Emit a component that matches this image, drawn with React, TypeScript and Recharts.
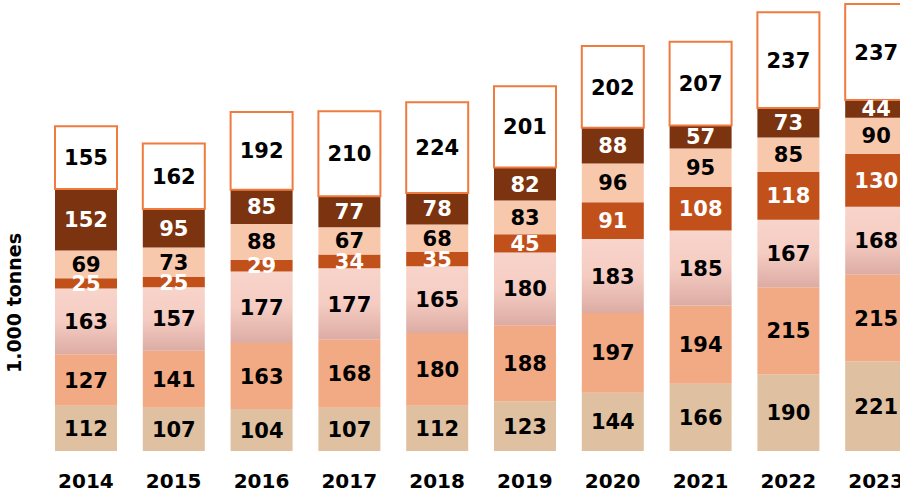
import React from 'react';
import { BarChart, Bar, XAxis, YAxis, LabelList } from 'recharts';

const years = ['2014', '2015', '2016', '2017', '2018', '2019', '2020', '2021', '2022', '2023'];
const s1 = [112, 107, 104, 107, 112, 123, 144, 166, 190, 221];
const s2 = [127, 141, 163, 168, 180, 188, 197, 194, 215, 215];
const s3 = [163, 157, 177, 177, 165, 180, 183, 185, 167, 168];
const s4 = [25, 25, 29, 34, 35, 45, 91, 108, 118, 130];
const s5 = [69, 73, 88, 67, 68, 83, 96, 95, 85, 90];
const s6 = [152, 95, 85, 77, 78, 82, 88, 57, 73, 44];
const s7 = [155, 162, 192, 210, 224, 201, 202, 207, 237, 237];

const data = years.map((year, i) => ({
  year,
  s1: s1[i],
  s2: s2[i],
  s3: s3[i],
  s4: s4[i],
  s5: s5[i],
  s6: s6[i],
  s7: s7[i],
}));

const font = 'DejaVu Sans, Verdana, sans-serif';

const makeLabel = (color: string) => (props: any) => {
  const { x, y, width, height, value } = props;
  return (
    <text
      x={x + width / 2}
      y={y + height / 2}
      dy="0.36em"
      textAnchor="middle"
      fill={color}
      fontSize={21}
      fontWeight="bold"
      fontFamily={font}
    >
      {value}
    </text>
  );
};

const YearTick = (props: any) => {
  const { x, y, payload } = props;
  return (
    <text x={x} y={y + 37} textAnchor="middle" fill="#000" fontSize={20} fontWeight="bold" fontFamily={font}>
      {payload.value}
    </text>
  );
};

export default function App() {
  return (
    <div
      style={{
        position: 'fixed',
        left: 0,
        top: 0,
        width: 900,
        height: 495,
        overflow: 'hidden',
        background: '#fff',
      }}
    >
      <BarChart width={920} height={495} data={data} margin={{ top: 0, right: 0, left: 42, bottom: 0 }}>
        <defs>
          <linearGradient id="pinkGrad" x1="0" y1="0" x2="0" y2="1">
            <stop offset="0%" stopColor="#f8d4cb" />
            <stop offset="50%" stopColor="#f5ccc2" />
            <stop offset="100%" stopColor="#dcaca4" />
          </linearGradient>
        </defs>
        <XAxis
          dataKey="year"
          height={44}
          axisLine={false}
          tickLine={false}
          tickSize={0}
          tickMargin={0}
          tick={<YearTick />}
          interval={0}
        />
        <YAxis hide domain={[0, 1115]} />
        <Bar dataKey="s1" stackId="a" fill="#dfc1a1" barSize={62} isAnimationActive={false}>
          <LabelList dataKey="s1" content={makeLabel('#000')} />
        </Bar>
        <Bar dataKey="s2" stackId="a" fill="#f2aa84" barSize={62} isAnimationActive={false}>
          <LabelList dataKey="s2" content={makeLabel('#000')} />
        </Bar>
        <Bar dataKey="s3" stackId="a" fill="url(#pinkGrad)" barSize={62} isAnimationActive={false}>
          <LabelList dataKey="s3" content={makeLabel('#000')} />
        </Bar>
        <Bar dataKey="s4" stackId="a" fill="#c1501a" barSize={62} isAnimationActive={false}>
          <LabelList dataKey="s4" content={makeLabel('#fff')} />
        </Bar>
        <Bar dataKey="s5" stackId="a" fill="#f8c8ad" barSize={62} isAnimationActive={false}>
          <LabelList dataKey="s5" content={makeLabel('#000')} />
        </Bar>
        <Bar dataKey="s6" stackId="a" fill="#7b3310" barSize={62} isAnimationActive={false}>
          <LabelList dataKey="s6" content={makeLabel('#fff')} />
        </Bar>
        <Bar dataKey="s7" stackId="a" fill="#fff" stroke="#ef7b3e" strokeWidth={2} barSize={62} isAnimationActive={false}>
          <LabelList dataKey="s7" content={makeLabel('#000')} />
        </Bar>
      </BarChart>
      <div
        style={{
          position: 'absolute',
          left: 14,
          top: 303,
          transform: 'translate(-50%, -50%) rotate(-90deg)',
          whiteSpace: 'nowrap',
          fontFamily: font,
          fontWeight: 'bold',
          fontSize: 19,
          color: '#000',
        }}
      >
        1.000 tonnes
      </div>
    </div>
  );
}
